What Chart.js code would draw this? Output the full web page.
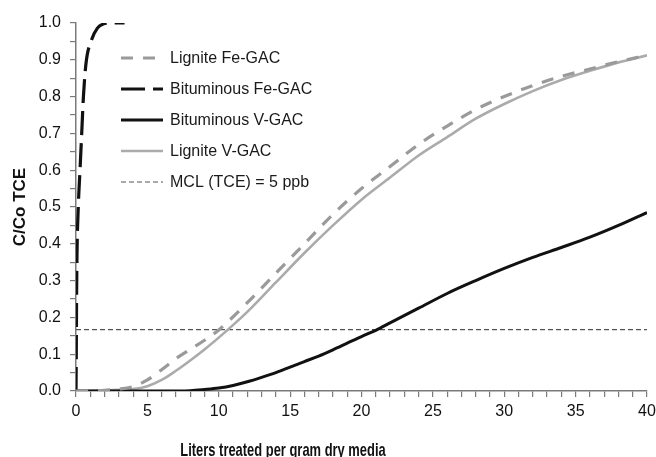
<!DOCTYPE html>
<html>
<head>
<meta charset="utf-8">
<script src="https://cdn.jsdelivr.net/npm/chart.js@4"></script>
<style>
  html, body { margin: 0; padding: 0; background: #fff; }
  #wrap { width: 656px; height: 457px; }
</style>
</head>
<body>
<div id="wrap"><canvas id="chart" width="656" height="457"></canvas></div>
<script>
// --- Data ---
const seriesNames = ['Lignite Fe-GAC', 'Bituminous Fe-GAC', 'Bituminous V-GAC', 'Lignite V-GAC', 'MCL (TCE) = 5 ppb'];

const ligniteFeX = [0, 2, 3, 4, 5, 6, 7, 8, 9, 10, 12, 14, 16, 18, 20, 22, 24, 26, 28, 30, 32, 34, 36, 38, 40];
const ligniteFeY = [0, 0.002, 0.005, 0.012, 0.03, 0.058, 0.088, 0.113, 0.138, 0.166, 0.24, 0.32, 0.40, 0.48, 0.55, 0.61, 0.67, 0.72, 0.765, 0.80, 0.83, 0.855, 0.875, 0.895, 0.912];

const bitFeX = [0, 0.02, 0.04, 0.07, 0.16, 0.28, 0.4, 0.52, 0.7, 1.1, 1.5, 1.9, 2.5, 3.4];
const bitFeY = [0, 0.1, 0.25, 0.37, 0.5, 0.6, 0.7, 0.8, 0.89, 0.955, 0.986, 0.997, 1.0, 1.0];

const bitVX = [0, 6, 8, 9, 10, 11, 12, 13, 14, 15, 16, 17, 18, 19, 20, 21, 22, 24, 26, 28, 30, 32, 34, 36, 38, 40];
const bitVY = [0, 0, 0.001, 0.004, 0.008, 0.015, 0.025, 0.037, 0.05, 0.065, 0.08, 0.095, 0.112, 0.13, 0.148, 0.165, 0.185, 0.225, 0.265, 0.30, 0.333, 0.363, 0.39, 0.418, 0.45, 0.485];

const ligniteVX = [0, 2, 4, 5, 6, 7, 8, 9, 10, 12, 14, 16, 18, 20, 22, 24, 26, 28, 30, 32, 34, 36, 38, 40];
const ligniteVY = [0, 0.002, 0.005, 0.013, 0.03, 0.055, 0.083, 0.113, 0.145, 0.215, 0.295, 0.375, 0.45, 0.52, 0.58, 0.64, 0.69, 0.74, 0.78, 0.815, 0.845, 0.87, 0.893, 0.912];

const mclX = [0, 40];
const mclY = [0.167, 0.167];

const xTitle = 'Liters treated per gram dry media';
const yTitle = 'C/Co TCE';

function pts(xs, ys) {
    return xs.map((x, i) => ({ x: x, y: ys[i] }));
}

const FONT = "'Liberation Sans', Arial, sans-serif";
const AXIS = '#7a7a7a';

// --- Legend drawn inside the plot, upper left ---
const insideLegend = {
    id: 'insideLegend',
    afterDraw(chart) {
        const ctx = chart.ctx;
        ctx.save();
        chart.data.datasets.forEach((ds, i) => {
            const y = 58 + i * 31;
            ctx.beginPath();
            ctx.strokeStyle = ds.borderColor;
            ctx.lineWidth = ds.borderWidth;
            ctx.setLineDash(ds.borderDash || []);
            ctx.moveTo(121, y);
            ctx.lineTo(163, y);
            ctx.stroke();
            ctx.setLineDash([]);
            ctx.fillStyle = '#1a1a1a';
            ctx.font = '16px ' + FONT;
            ctx.textBaseline = 'middle';
            ctx.fillText(ds.label, 170, y + 1);
        });
        ctx.restore();
    }
};

// x axis title in a narrow bold face, like the original
const narrowXTitle = {
    id: 'narrowXTitle',
    afterDraw(chart) {
        const ctx = chart.ctx;
        ctx.save();
        ctx.font = 'bold 19px ' + FONT;
        ctx.fillStyle = '#111';
        ctx.textAlign = 'center';
        ctx.textBaseline = 'middle';
        ctx.translate(283, 451);
        ctx.scale(0.68, 1);
        ctx.fillText(xTitle, 0, 0);
        ctx.restore();
    }
};

const chart = new Chart(document.getElementById('chart').getContext('2d'), {
    type: 'line',
    data: {
        datasets: [
            {
                label: seriesNames[0],
                data: pts(ligniteFeX, ligniteFeY),
                borderColor: '#9a9a9a',
                borderWidth: 3.2,
                borderDash: [12, 10],
                cubicInterpolationMode: 'monotone'
            },
            {
                label: seriesNames[1],
                data: pts(bitFeX, bitFeY),
                borderColor: '#111',
                borderWidth: 3.2,
                borderDash: [24, 8],
                cubicInterpolationMode: 'monotone'
            },
            {
                label: seriesNames[2],
                data: pts(bitVX, bitVY),
                borderColor: '#111',
                borderWidth: 3,
                cubicInterpolationMode: 'monotone'
            },
            {
                label: seriesNames[3],
                data: pts(ligniteVX, ligniteVY),
                borderColor: '#ababab',
                borderWidth: 2.6,
                cubicInterpolationMode: 'monotone'
            },
            {
                label: seriesNames[4],
                data: pts(mclX, mclY),
                borderColor: '#555',
                borderWidth: 1.2,
                borderDash: [5, 3]
            }
        ]
    },
    options: {
        responsive: false,
        animation: false,
        elements: { point: { radius: 0 } },
        layout: { padding: { top: 23, right: 9, left: 0, bottom: 0 } },
        plugins: {
            legend: { display: false },
            tooltip: { enabled: false }
        },
        scales: {
            x: {
                type: 'linear',
                min: 0,
                max: 40,
                afterFit(scale) {
                    scale.height = 66;
                    scale.paddingRight = 0;
                },
                border: { display: true, color: AXIS, width: 1.5 },
                grid: { drawOnChartArea: false, drawTicks: true, tickLength: 6, color: AXIS, lineWidth: 1.2 },
                ticks: {
                    stepSize: 1,
                    autoSkip: false,
                    maxRotation: 0,
                    padding: 5,
                    color: '#111',
                    font: { family: FONT, size: 16 },
                    callback: v => (Math.round(v) % 5 === 0 ? String(Math.round(v)) : '')
                },
                title: { display: false }
            },
            y: {
                min: 0,
                max: 1,
                afterFit(scale) { scale.width = 76; },
                border: { display: true, color: AXIS, width: 1.5 },
                grid: { drawOnChartArea: false, drawTicks: true, tickLength: 6, color: AXIS, lineWidth: 1.2 },
                ticks: {
                    stepSize: 0.05,
                    autoSkip: false,
                    padding: 9,
                    color: '#111',
                    font: { family: FONT, size: 16 },
                    callback: v => (Math.round(v * 20) % 2 === 0 ? (Math.round(v * 20) / 20).toFixed(1) : '')
                },
                title: {
                    display: true,
                    text: yTitle,
                    color: '#111',
                    font: { family: FONT, size: 17, weight: 'bold' },
                    padding: { top: 10, bottom: 0 }
                }
            }
        }
    },
    plugins: [insideLegend, narrowXTitle]
});
</script>
</body>
</html>
